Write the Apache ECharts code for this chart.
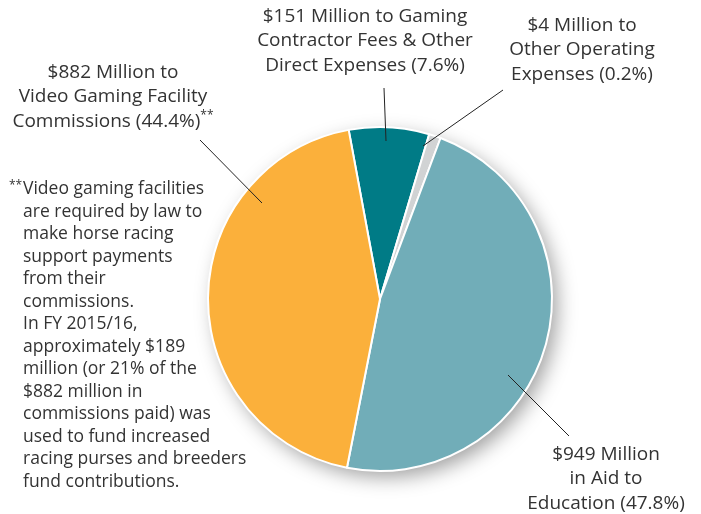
<!DOCTYPE html>
<html>
<head>
<meta charset="utf-8">
<script src="https://cdn.jsdelivr.net/npm/echarts@6/dist/echarts.min.js"></script>
<style>
  html, body { margin: 0; padding: 0; background: #fff; }
  #chart { width: 701px; height: 514px; }
</style>
</head>
<body>
<div id="chart"></div>
<script>
// slices in clockwise order from the top
var amounts = [151, 4, 949, 882]
var labelHeads = [
  '$151 Million to Gaming',
  '$4 Million to',
  '$949 Million',
  '$882 Million to'
]
var labelBodies = [
  'Contractor Fees & Other\nDirect Expenses',
  'Other Operating\nExpenses',
  'in Aid to\nEducation',
  'Video Gaming Facility\nCommissions'
]
var footnoteMarks = ['', '', '', '**']
var sliceColors = ['#007B86', '#D1D3D4', '#71ADB8', '#FBB03B']

var footnote = [
  'Video gaming facilities',
  'are required by law to',
  'make horse racing',
  'support payments',
  'from their',
  'commissions.',
  'In FY 2015/16,',
  'approximately $189',
  'million (or 21% of the',
  '$882 million in',
  'commissions paid) was',
  'used to fund increased',
  'racing purses and breeders',
  'fund contributions.'
]

// where each label sits and where its leader line runs
var labelPlaces = [
  { x: 365, y: 41, line: [[384, 88], [386, 141]] },
  { x: 582, y: 50, line: [[503, 90], [423, 146]] },
  { x: 606, y: 479, line: [[569, 436], [508, 375]] },
  { x: 113, y: 97, line: [[200, 140], [262, 203]] }
]

var font = '"Open Sans", Lato, sans-serif'
var textColor = '#333333'

var chart = echarts.init(document.getElementById('chart'))

var pieData = amounts.map(function (v, i) {
  return { value: v, name: labelHeads[i], itemStyle: { color: sliceColors[i] } }
})

var leaderLines = labelPlaces.map(function (pl) {
  return {
    type: 'polyline',
    z: 100,
    silent: true,
    shape: { points: pl.line },
    style: { stroke: '#222222', lineWidth: 1, fill: null }
  }
})

var option = {
  animation: false,
  series: [
    {
      // soft drop shadow under the whole pie
      type: 'pie',
      silent: true,
      center: [380, 299],
      radius: 171,
      label: { show: false },
      labelLine: { show: false },
      itemStyle: {
        color: '#ffffff',
        shadowBlur: 20,
        shadowOffsetX: 6,
        shadowOffsetY: 7,
        shadowColor: 'rgba(0,0,0,0.38)'
      },
      data: [{ value: 1 }]
    },
    {
      type: 'pie',
      center: [380, 299],
      radius: 172,
      startAngle: 100.5,
      clockwise: true,
      minAngle: 4,
      percentPrecision: 1,
      itemStyle: { borderColor: '#ffffff', borderWidth: 2 },
      emphasis: { disabled: true },
      label: {
        show: true,
        position: 'outside',
        color: textColor,
        fontFamily: font,
        fontSize: 19,
        lineHeight: 24.5,
        align: 'center',
        width: 320,
        overflow: 'none',
        formatter: function (p) {
          var i = p.dataIndex
          var s = labelHeads[i] + '\n' + labelBodies[i] + ' (' + p.percent.toFixed(1) + '%)'
          if (footnoteMarks[i]) s += '{sup|' + footnoteMarks[i] + '}'
          return s
        },
        rich: {
          sup: { fontSize: 12, fontFamily: font, color: textColor, verticalAlign: 'top', lineHeight: 24.5 }
        }
      },
      labelLine: { show: false },
      labelLayout: function (p) {
        var pl = labelPlaces[p.dataIndex]
        return { x: pl.x, y: pl.y, align: 'center', verticalAlign: 'middle' }
      },
      data: pieData
    }
  ],
  graphic: leaderLines.concat([
    {
      type: 'text',
      left: 9,
      top: 180,
      style: { text: '**', fontSize: 12, fontFamily: font, fill: textColor }
    },
    {
      type: 'text',
      left: 23,
      top: 178,
      style: {
        text: footnote.join('\n'),
        fontSize: 17.5,
        lineHeight: 22.5,
        fontFamily: font,
        fill: textColor
      }
    }
  ])
}

chart.setOption(option)
</script>
</body>
</html>
